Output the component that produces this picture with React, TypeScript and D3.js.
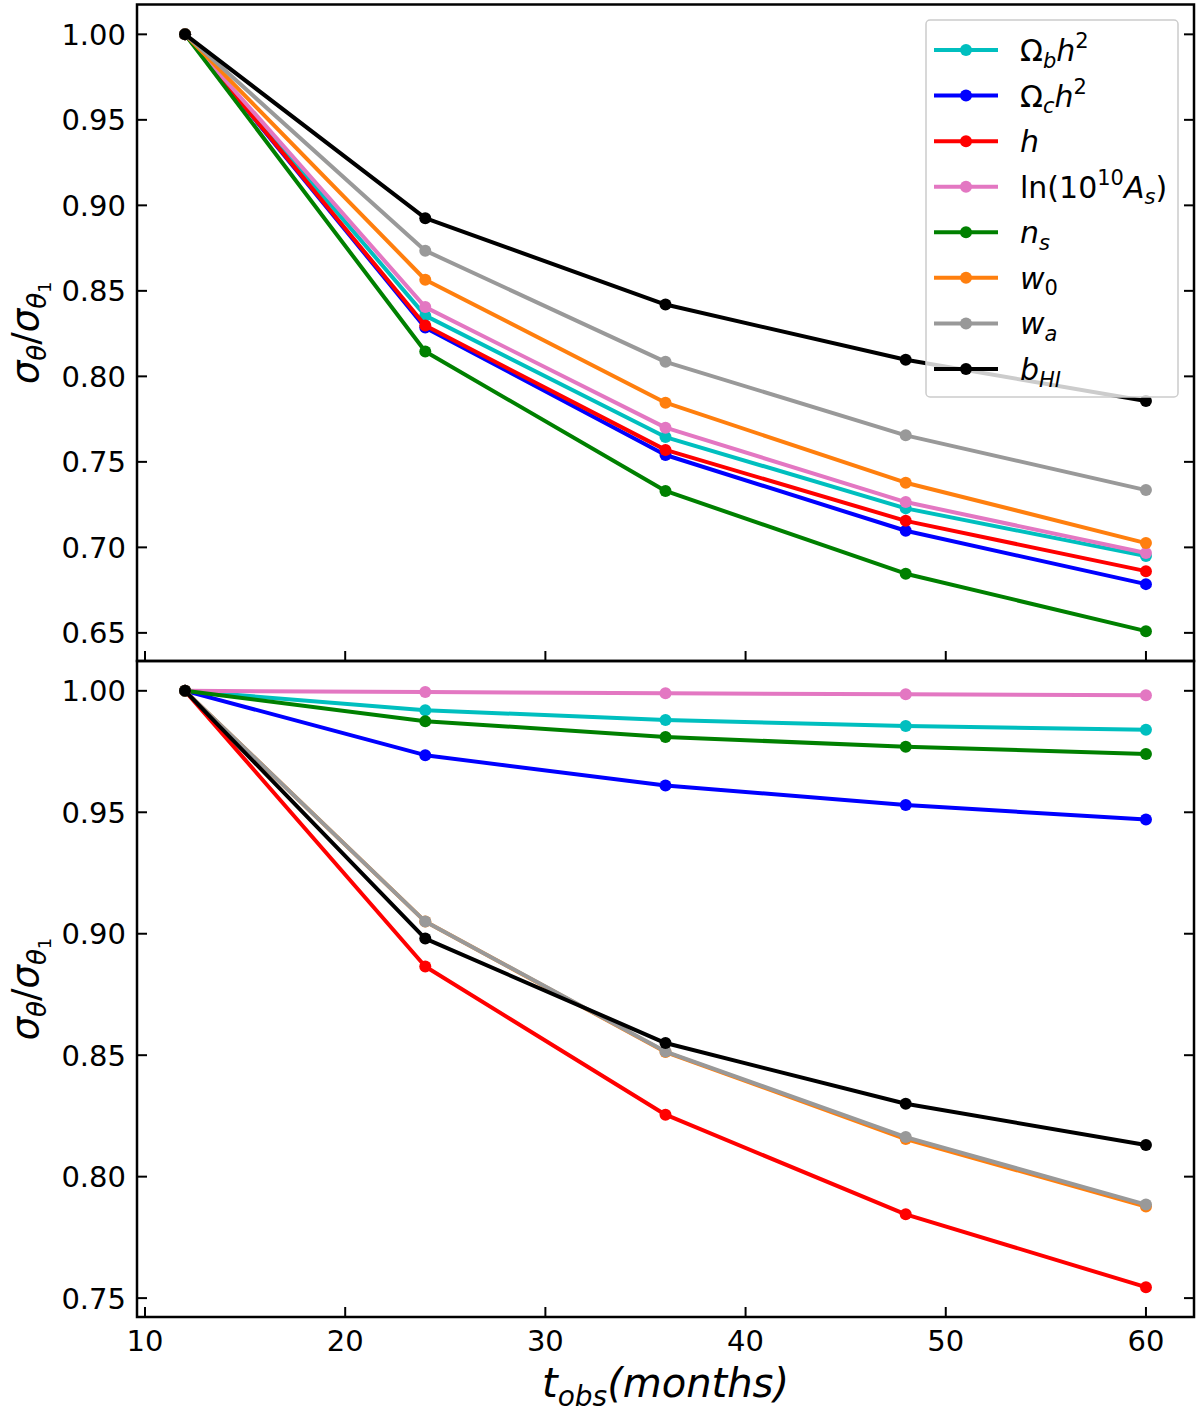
import * as d3 from "d3";
import React, { useEffect, useRef } from "react";

// observation time (months)
const months = [12, 24, 36, 48, 60];

const seriesKeys = ["Obh2", "Och2", "h", "lnAs", "ns", "w0", "wa", "bHI"];
const seriesColors = ["#00bfbf", "#0000ff", "#ff0000", "#e377c2", "#008000", "#ff7f0e", "#999999", "#000000"];

// top panel
const topObh2 = [1, 0.8355, 0.7645, 0.7228, 0.6949];
const topOch2 = [1, 0.8285, 0.754, 0.7097, 0.6785];
const topH = [1, 0.8297, 0.757, 0.7155, 0.6861];
const topLnAs = [1, 0.8405, 0.770, 0.7265, 0.6967];
const topNs = [1, 0.8145, 0.733, 0.6846, 0.651];
const topW0 = [1, 0.8565, 0.7846, 0.7378, 0.7025];
const topWa = [1, 0.8735, 0.8085, 0.7655, 0.7335];
const topBHI = [1, 0.8925, 0.842, 0.8097, 0.7856];

// bottom panel
const botObh2 = [1, 0.992, 0.988, 0.9855, 0.984];
const botOch2 = [1, 0.9735, 0.961, 0.953, 0.947];
const botH = [1, 0.8865, 0.8255, 0.7845, 0.7545];
const botLnAs = [1, 0.9995, 0.999, 0.9986, 0.9982];
const botNs = [1, 0.9875, 0.981, 0.977, 0.974];
const botW0 = [1, 0.905, 0.8513, 0.8155, 0.7877];
const botWa = [1, 0.905, 0.8515, 0.8163, 0.7885];
const botBHI = [1, 0.898, 0.855, 0.830, 0.813];

const topSeries = [topObh2, topOch2, topH, topLnAs, topNs, topW0, topWa, topBHI];
const botSeries = [botObh2, botOch2, botH, botLnAs, botNs, botW0, botWa, botBHI];

const xTicks = [10, 20, 30, 40, 50, 60];
const topYTicks = [0.65, 0.70, 0.75, 0.80, 0.85, 0.90, 0.95, 1.00];
const botYTicks = [0.75, 0.80, 0.85, 0.90, 0.95, 1.00];

// text pieces: [text, italic, shift]  shift: 0 normal, -1 sub, 1 sup
type Seg = [string, boolean, number];
const legendLabels: Seg[][] = [
  [["Ω", false, 0], ["b", true, -1], ["h", true, 0], ["2", false, 1]],
  [["Ω", false, 0], ["c", true, -1], ["h", true, 0], ["2", false, 1]],
  [["h", true, 0]],
  [["ln(10", false, 0], ["10", false, 1], ["A", true, 0], ["s", true, -1], [")", false, 0]],
  [["n", true, 0], ["s", true, -1]],
  [["w", true, 0], ["0", false, -1]],
  [["w", true, 0], ["a", true, -1]],
  [["b", true, 0], ["HI", true, -1]],
];

function writeMath(text: d3.Selection<SVGTextElement, unknown, null, undefined>, segs: Seg[], size: number) {
  let cur = 0;
  segs.forEach(([t, it, sh]) => {
    const target = sh === 0 ? 0 : sh < 0 ? 0.22 * size : -0.42 * size;
    text.append("tspan")
      .attr("dy", target - cur)
      .attr("font-style", it ? "italic" : "normal")
      .attr("font-size", sh === 0 ? size : size * 0.7)
      .text(t);
    cur = target;
  });
}

const App: React.FC = () => {
  const ref = useRef<SVGSVGElement>(null);

  useEffect(() => {
    const width = 1200;
    const height = 1415;
    const left = 137;
    const right = 1194;
    const topY0 = 4.5;
    const mid = 661;
    const bottom = 1317;
    const font = "DejaVu Sans, sans-serif";

    const svg = d3.select(ref.current!);
    svg.selectAll("*").remove();
    svg.attr("width", width).attr("height", height).attr("font-family", font);

    const pad = (lo: number, hi: number) => [lo - (hi - lo) * 0.05, hi + (hi - lo) * 0.05];

    const x = d3.scaleLinear()
      .domain(pad(d3.min(months)!, d3.max(months)!))
      .range([left, right]);

    const panels = [
      { series: topSeries, ticks: topYTicks, y0: topY0, y1: mid, legend: true },
      { series: botSeries, ticks: botYTicks, y0: mid, y1: bottom, legend: false },
    ];

    panels.forEach(p => {
      const all = p.series.flat();
      const y = d3.scaleLinear()
        .domain(pad(d3.min(all)!, d3.max(all)!))
        .range([p.y1, p.y0]);

      const g = svg.append("g");

      const line = d3.line<number>()
        .x((_, i) => x(months[i]))
        .y(d => y(d));

      p.series.forEach((vals, si) => {
        g.append("path")
          .datum(vals)
          .attr("fill", "none")
          .attr("stroke", seriesColors[si])
          .attr("stroke-width", 4)
          .attr("stroke-linejoin", "round")
          .attr("d", line);
        g.selectAll(null)
          .data(vals)
          .join("circle")
          .attr("cx", (_, i) => x(months[i]))
          .attr("cy", d => y(d))
          .attr("r", 6)
          .attr("fill", seriesColors[si]);
      });

      // y ticks (left and right, inward)
      const tl = 10;
      p.ticks.forEach(t => {
        g.append("line")
          .attr("x1", left).attr("x2", left + tl)
          .attr("y1", y(t)).attr("y2", y(t))
          .attr("stroke", "#000").attr("stroke-width", 2);
        g.append("line")
          .attr("x1", right).attr("x2", right - tl)
          .attr("y1", y(t)).attr("y2", y(t))
          .attr("stroke", "#000").attr("stroke-width", 2);
        g.append("text")
          .attr("x", left - 11)
          .attr("y", y(t))
          .attr("dy", "0.36em")
          .attr("text-anchor", "end")
          .attr("font-size", 29)
          .text(d3.format(".2f")(t));
      });

      // x ticks (bottom, inward)
      xTicks.forEach(t => {
        g.append("line")
          .attr("x1", x(t)).attr("x2", x(t))
          .attr("y1", p.y1).attr("y2", p.y1 - tl)
          .attr("stroke", "#000").attr("stroke-width", 2);
      });

      // y label
      const ly = (p.y0 + p.y1) / 2;
      const lab = g.append("text")
        .attr("transform", `translate(38,${ly}) rotate(-90)`)
        .attr("text-anchor", "middle")
        .attr("font-size", 37)
        .attr("font-style", "italic");
      lab.append("tspan").text("σ");
      lab.append("tspan").attr("font-size", 26).attr("dy", 8).text("θ");
      lab.append("tspan").attr("dy", -8).attr("font-style", "normal").text("/");
      lab.append("tspan").text("σ");
      lab.append("tspan").attr("font-size", 26).attr("dy", 8).text("θ");
      lab.append("tspan").attr("font-size", 18).attr("font-style", "normal").attr("dy", 5).text("1");

      if (p.legend) {
        const lg = g.append("g");
        lg.append("rect")
          .attr("x", 926).attr("y", 20)
          .attr("width", 252).attr("height", 377)
          .attr("rx", 4)
          .attr("fill", "#fff").attr("fill-opacity", 0.8)
          .attr("stroke", "#cccccc").attr("stroke-width", 1.5);
        const rows = d3.scaleLinear().domain([0, seriesKeys.length - 1]).range([50, 369]);
        seriesKeys.forEach((k, i) => {
          const ry = rows(i);
          lg.append("line")
            .attr("x1", 934).attr("x2", 998)
            .attr("y1", ry).attr("y2", ry)
            .attr("stroke", seriesColors[i]).attr("stroke-width", 4);
          lg.append("circle")
            .attr("cx", 966).attr("cy", ry).attr("r", 6)
            .attr("fill", seriesColors[i]);
          const tx = lg.append("text")
            .attr("x", 1020).attr("y", ry + 11)
            .attr("font-size", 30)
            .attr("data-key", k);
          writeMath(tx, legendLabels[i], 30);
        });
      }
    });

    // frames
    svg.append("rect")
      .attr("x", left).attr("y", topY0)
      .attr("width", right - left).attr("height", mid - topY0)
      .attr("fill", "none").attr("stroke", "#000").attr("stroke-width", 2.5);
    svg.append("rect")
      .attr("x", left).attr("y", mid)
      .attr("width", right - left).attr("height", bottom - mid)
      .attr("fill", "none").attr("stroke", "#000").attr("stroke-width", 2.5);

    // x tick labels
    xTicks.forEach(t => {
      svg.append("text")
        .attr("x", x(t)).attr("y", 1351)
        .attr("text-anchor", "middle")
        .attr("font-size", 29)
        .text(t);
    });

    // x label
    const xl = svg.append("text")
      .attr("x", (left + right) / 2).attr("y", 1397)
      .attr("text-anchor", "middle")
      .attr("font-size", 40)
      .attr("font-style", "italic");
    xl.append("tspan").text("t");
    xl.append("tspan").attr("font-size", 28).attr("dy", 9).text("obs");
    xl.append("tspan").attr("dy", -9).text("(months)");
  }, []);

  return (
    <svg ref={ref} style={{ position: "absolute", left: 0, top: 0, background: "#fff" }} />
  );
};

export default App;
